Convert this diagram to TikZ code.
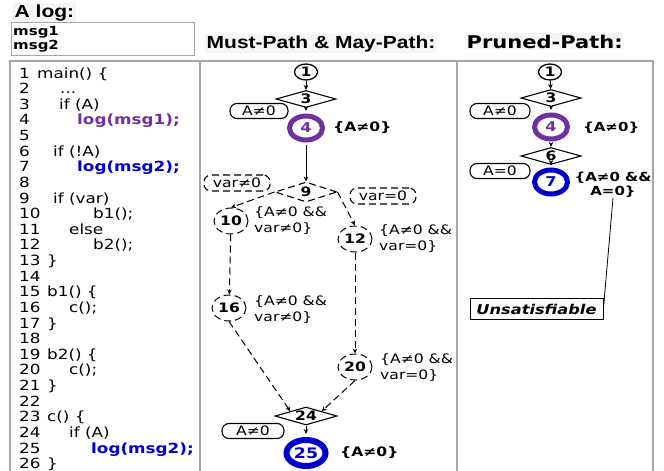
\documentclass[tikz,border=0pt]{standalone}
\usepackage{fontspec}
\setmainfont{DejaVu Sans}[FakeStretch=1.2]
\newfontfamily\libfont{Liberation Sans}[FakeStretch=1.2]
\usetikzlibrary{shapes.geometric,arrows.meta}
\definecolor{mypurple}{HTML}{7030A0}
\definecolor{myblue}{HTML}{0000CC}
\definecolor{bordergray}{HTML}{A6A6A6}
\definecolor{headbg}{HTML}{F5F5F5}
\newcommand\myfs[2]{\fontsize{#1}{#2}\selectfont}
\begin{document}
\begin{tikzpicture}[x=1pt,y=-1pt,
  panel/.style={draw=bordergray,line width=1.5pt},
  heading/.style={anchor=base west,inner sep=1.5pt,fill=headbg},
  code/.style={anchor=base west,inner sep=0pt,font=\myfs{14}{16}},
  codep/.style={code,font=\myfs{14}{16}\bfseries,text=mypurple},
  codeb/.style={code,font=\myfs{14}{16}\bfseries,text=myblue},
  sc/.style={ellipse,draw,line width=1.3pt,minimum width=23pt,minimum height=16pt,inner sep=0pt,font=\myfs{13}{15}\bfseries},
  dia/.style={diamond,draw,line width=1.1pt,minimum width=60pt,minimum height=17pt,inner sep=0pt,aspect=3.4,font=\myfs{13}{15}\bfseries},
  ddia/.style={dia,dash pattern=on 7pt off 4pt},
  cond/.style={draw,line width=1.1pt,rounded corners=7pt,minimum width=58pt,minimum height=15pt,inner sep=0pt,font=\myfs{13}{15}},
  dcond/.style={cond,dash pattern=on 7pt off 4pt,minimum width=66pt,minimum height=16pt},
  ring/.style={ellipse,draw=#1,text=#1,line width=5pt,minimum width=33pt,minimum height=24pt,inner sep=0pt,font=\myfs{13.5}{15}\bfseries},
  bigring/.style={ring=#1,line width=6pt,minimum width=39pt,minimum height=26pt,font=\myfs{14.5}{16}\bfseries},
  dc/.style={ellipse,draw,line width=1pt,dash pattern=on 7pt off 4pt,minimum width=34pt,minimum height=26pt,inner sep=0pt,font=\myfs{13}{15}\bfseries},
  lab/.style={anchor=west,inner sep=0pt,align=left,font=\myfs{13}{16}},
  blab/.style={anchor=west,inner sep=0pt,font=\myfs{13}{15}\bfseries},
  arr/.style={-{Stealth[length=5pt,width=4.5pt]},line width=1pt},
  darr/.style={arr,dash pattern=on 7pt off 4pt}
]
\useasboundingbox (0,0) rectangle (664,471);
\clip (0,0) rectangle (664,471);

% headings
\node[heading,font=\libfont\myfs{17.5}{19}\bfseries] (hlog) at (13,17) {A log:};
\node[heading,font=\libfont\myfs{17.5}{19}\bfseries] (hmust) at (205,48) {Must-Path \& May-Path:};
\node[heading,font=\myfs{17.5}{19}\bfseries] (hpruned) at (465,48) {Pruned-Path:};

% log box
\node[draw=bordergray,line width=1pt,minimum width=183pt,minimum height=33pt,anchor=north west,inner sep=0pt] (logbox) at (11,22) {};
\node[anchor=base west,inner sep=0pt,font=\myfs{12.5}{14}\bfseries] (msg1) at (13,35) {msg1};
\node[anchor=base west,inner sep=0pt,font=\myfs{12.5}{14}\bfseries] (msg2) at (13,49) {msg2};

% panels
\draw[panel] (10,61) rectangle (200,480);
\draw[panel] (200,61) rectangle (457,480);
\draw[panel] (457,61) rectangle (653,480);

% code
\foreach \i in {1,...,26} {
  \node[code] (num\i) at (19,{78+(\i-1)*15.63}) {\i};
}
\node[code] (c1) at (37,78) {main() \{};
\node[code] (c2) at (60,93.63) {...};
\node[code] (c3) at (59,109.26) {if (A)};
\node[codep] (c4) at (77,124.89) {log(msg1);};
\node[code] (c6) at (53,156.15) {if (!A)};
\node[codeb] (c7) at (77,171.78) {log(msg2);};
\node[code] (c9) at (53,203.04) {if (var)};
\node[code] (c10) at (93,218.67) {b1();};
\node[code] (c11) at (69,234.30) {else};
\node[code] (c12) at (93,249.93) {b2();};
\node[code] (c13) at (47,265.56) {\}};
\node[code] (c15) at (47,296.82) {b1() \{};
\node[code] (c16) at (69,312.45) {c();};
\node[code] (c17) at (47,328.08) {\}};
\node[code] (c19) at (47,359.34) {b2() \{};
\node[code] (c20) at (69,374.97) {c();};
\node[code] (c21) at (47,390.60) {\}};
\node[code] (c23) at (47,421.86) {c() \{};
\node[code] (c24) at (69,437.49) {if (A)};
\node[codeb] (c25) at (91,453.12) {log(msg2);};
\node[code] (c26) at (47,468.75) {\}};

% middle graph
\node[sc] (m1) at (306,72) {1};
\node[dia] (m3) at (306,99) {3};
\node[cond] (mc1) at (259,111) {A≠0};
\node[ring=mypurple] (m4) at (306,128) {4};
\node[blab] (mt4) at (333,128) {\{A≠0\}};
\node[ddia,minimum width=62pt,minimum height=20pt] (m9) at (306,192) {9};
\node[dcond] (mc2) at (237,183) {var≠0};
\node[dcond] (mc3) at (383,196) {var=0};
\node[dc] (m10) at (231,221) {10};
\node[lab] (mt10) at (254,221) {\{A≠0 \&\&\\var≠0\}};
\node[dc] (m12) at (355,239) {12};
\node[lab] (mt12) at (379,239) {\{A≠0 \&\&\\var=0\}};
\node[dc] (m16) at (229,308) {16};
\node[lab] (mt16) at (254,310) {\{A≠0 \&\&\\var≠0\}};
\node[dc] (m20) at (355,367) {20};
\node[lab] (mt20) at (380,368) {\{A≠0 \&\&\\var=0\}};
\node[dia,minimum width=62pt,minimum height=18pt] (m24) at (306,416) {24};
\node[cond,minimum width=62pt] (mc4) at (253,431) {A≠0};
\node[bigring=myblue] (m25) at (306,453) {25};
\node[blab] (mt25) at (340,453) {\{A≠0\}};

\draw[arr] (m1) -- (m3);
\draw[arr,shorten >=2.5pt] (m3) -- (m4);
\draw[arr,shorten <=2.5pt] (m4) -- (m9);
\draw[darr] (m9.west) -- (m10.north);
\draw[darr] (m9.east) -- (m12.north);
\draw[darr] (m10) -- (m16);
\draw[darr] (m12) -- (m20);
\draw[darr] (m16.south) -- (m24.north west);
\draw[darr] (m20.south) -- (m24.north east);
\draw[arr,shorten >=3pt] (m24) -- (m25);

% right graph
\node[sc] (r1) at (550,72) {1};
\node[dia] (r3) at (551,98) {3};
\node[cond,minimum width=60pt] (rc1) at (500,111) {A≠0};
\node[ring=mypurple] (r4) at (551,127) {4};
\node[blab,font=\myfs{12.5}{15}\bfseries] (rt4) at (583,128) {\{A≠0\}};
\node[dia] (r6) at (551,156) {6};
\node[cond,minimum width=60pt] (rc2) at (500,171) {A=0};
\node[ring=myblue] (r7) at (551,182) {7};
\node[inner sep=0pt,align=center,font=\myfs{12.5}{14}\bfseries] (rt7) at (613,185) {\{A≠0 \&\&\\A=0\}};
\node[draw,line width=0.8pt,minimum width=133pt,minimum height=21pt,inner sep=0pt,font=\myfs{13.5}{15}\bfseries\itshape] (unsat) at (536.5,309) {Unsatisfiable};

\draw[arr] (r1) -- (r3);
\draw[arr,shorten >=2.5pt] (r3) -- (r4);
\draw[arr,shorten <=2.5pt] (r4) -- (r6);
\draw[arr,shorten >=2.5pt] (r6) -- (r7);
\draw[line width=0.8pt] (rt7.south) -- (unsat.east);
\end{tikzpicture}
\end{document}
